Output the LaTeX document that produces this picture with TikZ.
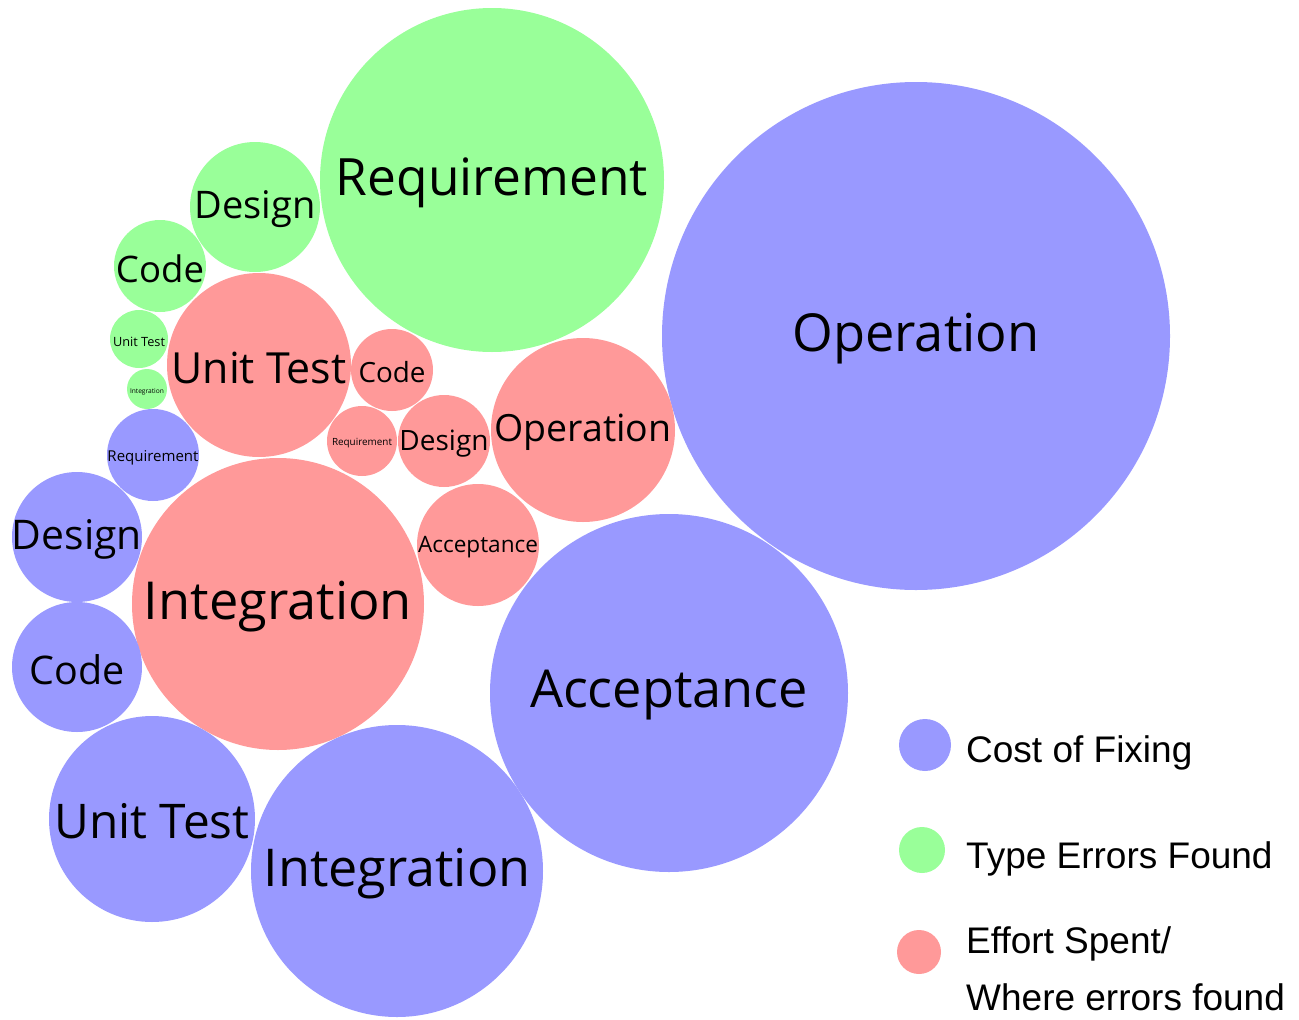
\documentclass[tikz,border=0pt]{standalone}
\usepackage{fontspec}
\usepackage{graphicx}
\setmainfont{Open Sans}
\newfontfamily\legfont{Liberation Sans}
\definecolor{cblue}{HTML}{9999FF}
\definecolor{cgreen}{HTML}{99FF99}
\definecolor{cred}{HTML}{FF9999}
\tikzset{
  bub/.style={circle, inner sep=0pt, text=black, yshift=-2.5pt},
  legtxt/.style={anchor=base west, inner sep=0pt, font=\legfont\fontsize{37}{46}\selectfont, align=left}
}
\begin{document}
\begin{tikzpicture}[x=1pt,y=-1pt]
\useasboundingbox (0,0) rectangle (1299,1020);
% bubbles: name, cx, cy, colour, radius, label width, label
\newcommand\bubble[7]{%
  \fill[#4] (#2,#3) circle (#5);
  \node[bub] (#1) at (#2,#3) {\resizebox{#6pt}{!}{#7}};}
\bubble{gReq}{492}{180}{cgreen}{172}{312}{Requirement}
\bubble{bOp}{916}{336}{cblue}{254}{247}{Operation}
\bubble{gDes}{255}{207}{cgreen}{65}{121}{Design}
\bubble{gCode}{160}{266}{cgreen}{46}{88}{Code}
\bubble{gUT}{139}{339}{cgreen}{29}{52}{Unit Test}
\bubble{gInt}{147}{389}{cgreen}{20}{34}{Integration}
\bubble{rUT}{259}{365}{cred}{92}{175}{Unit Test}
\bubble{rCode}{392}{370}{cred}{41}{67}{Code}
\bubble{rReq}{362}{441}{cred}{35}{60}{Requirement}
\bubble{rDes}{444}{441}{cred}{46}{89}{Design}
\bubble{rOp}{583}{430}{cred}{92}{177}{Operation}
\bubble{rAcc}{478}{545}{cred}{61}{120}{Acceptance}
\bubble{bReq}{153}{455}{cblue}{46}{91}{Requirement}
\bubble{bDes}{77}{537}{cblue}{65}{130}{Design}
\bubble{rInt}{278}{604}{cred}{146}{268}{Integration}
\bubble{bCode}{77}{667}{cblue}{65}{95}{Code}
\bubble{bAcc}{669}{693}{cblue}{179}{278}{Acceptance}
\bubble{bUT}{152}{819}{cblue}{103}{195}{Unit Test}
\bubble{bInt}{397}{871}{cblue}{146}{267}{Integration}
% legend
\fill[cblue] (925,745) circle (26);
\fill[cgreen] (922,850) circle (23);
\fill[cred] (919,952) circle (22);
\node[legtxt] (l1) at (966,762) {Cost of Fixing};
\node[legtxt] (l2) at (966,868) {Type Errors Found};
\node[legtxt] (l3) at (966,953) {Effort Spent/};
\node[legtxt] (l4) at (966,1010) {Where errors found};
\end{tikzpicture}
\end{document}
